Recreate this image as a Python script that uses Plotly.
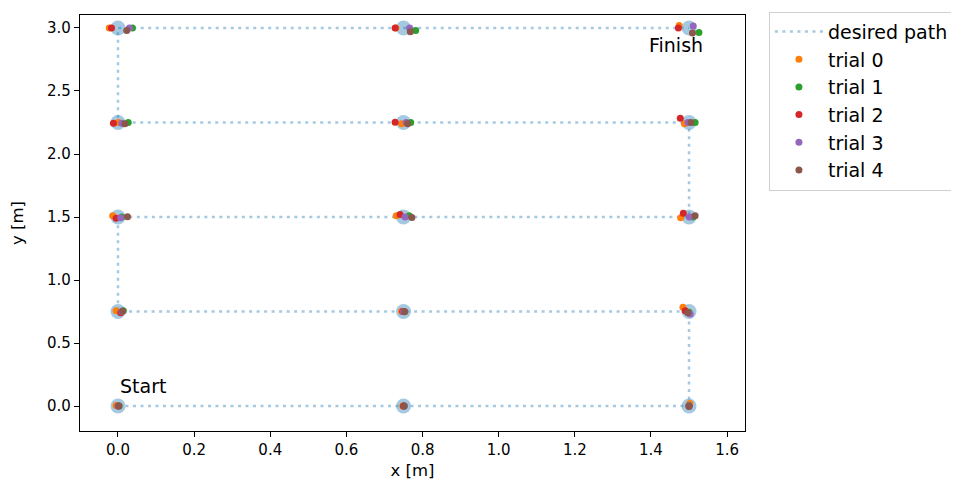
import plotly.graph_objects as go

# desired path (waypoints in travel order)
path_x = [0.0, 0.75, 1.5, 1.5, 0.75, 0.0, 0.0, 0.75, 1.5, 1.5, 0.75, 0.0, 0.0, 0.75, 1.5]
path_y = [0.0, 0.0, 0.0, 0.75, 0.75, 0.75, 1.5, 1.5, 1.5, 2.25, 2.25, 2.25, 3.0, 3.0, 3.0]

trial0_x = [-0.005, 0.748, 1.502, 1.484, 0.745, -0.005, -0.014, 0.731, 1.478, 1.488, 0.745, 0.001, -0.023, 0.730, 1.474]
trial0_y = [0.005, 0.0, 0.02, 0.783, 0.752, 0.756, 1.51, 1.51, 1.495, 2.24, 2.24, 2.25, 3.0, 3.0, 3.02]
trial1_x = [0.003, 0.752, 1.5, 1.5, 0.752, 0.014, 0.01, 0.765, 1.51, 1.516, 0.769, 0.027, 0.038, 0.782, 1.526]
trial1_y = [0.0, 0.0, 0.005, 0.745, 0.75, 0.756, 1.5, 1.51, 1.5, 2.25, 2.25, 2.25, 3.0, 2.98, 2.965]
trial2_x = [0.002, 0.75, 1.5, 1.49, 0.748, 0.007, -0.005, 0.741, 1.485, 1.477, 0.728, -0.012, -0.017, 0.728, 1.472]
trial2_y = [0.0, 0.0, 0.0, 0.757, 0.75, 0.74, 1.49, 1.52, 1.53, 2.283, 2.252, 2.245, 3.0, 3.0, 3.0]
trial3_x = [0.0, 0.752, 1.5, 1.503, 0.75, 0.01, 0.007, 0.754, 1.501, 1.497, 0.757, 0.01, 0.030, 0.766, 1.511]
trial3_y = [0.0, 0.0, 0.0, 0.73, 0.748, 0.75, 1.495, 1.5, 1.5, 2.25, 2.25, 2.245, 3.0, 3.0, 3.016]
trial4_x = [0.001, 0.751, 1.5, 1.497, 0.753, 0.012, 0.025, 0.772, 1.516, 1.505, 0.761, 0.018, 0.023, 0.768, 1.509]
trial4_y = [0.0, 0.0, -0.003, 0.74, 0.748, 0.752, 1.503, 1.497, 1.51, 2.25, 2.24, 2.24, 2.98, 2.97, 2.96]

trials = [
    ("trial 0", trial0_x, trial0_y, "#ff7f0e"),
    ("trial 1", trial1_x, trial1_y, "#2ca02c"),
    ("trial 2", trial2_x, trial2_y, "#d62728"),
    ("trial 3", trial3_x, trial3_y, "#9467bd"),
    ("trial 4", trial4_x, trial4_y, "#8c564b"),
]

x_ticks = [0.0, 0.2, 0.4, 0.6, 0.8, 1.0, 1.2, 1.4, 1.6]
y_ticks = [0.0, 0.5, 1.0, 1.5, 2.0, 2.5, 3.0]

FONT = "DejaVu Sans"
light_blue = "rgba(31,119,180,0.4)"

fig = go.Figure()
fig.add_trace(go.Scatter(
    x=path_x, y=path_y, mode="lines", name="desired path",
    line=dict(color=light_blue, width=2.5, dash="3px,4.5px"),
    legendgroup="path",
))
fig.add_trace(go.Scatter(
    x=path_x, y=path_y, mode="markers", showlegend=False,
    marker=dict(color=light_blue, size=15),
    hoverinfo="skip",
))
for i, (name, xs, ys, col) in enumerate(trials):
    fig.add_trace(go.Scatter(
        x=xs, y=ys, mode="markers", name=name,
        marker=dict(color=col, size=7),
        legendgroup="g%d" % i,
    ))

fig.add_annotation(x=0.0, y=0.16, text="Start", showarrow=False,
                   xanchor="left", yanchor="middle", font=dict(size=19, color="black", family=FONT))
fig.add_annotation(x=1.39, y=2.865, text="Finish", showarrow=False,
                   xanchor="left", yanchor="middle", font=dict(size=19, color="black", family=FONT))

axis_common = dict(
    showgrid=False, zeroline=False, showline=True, linecolor="black", linewidth=1.3,
    mirror=True, ticks="outside", ticklen=5, tickwidth=1.2, tickcolor="black",
    tickfont=dict(size=15, color="black", family=FONT),
    tickformat=".1f", automargin=False,
)

fig.update_layout(
    width=951, height=478,
    margin=dict(l=72, r=214, t=7, b=55, autoexpand=False),
    paper_bgcolor="white", plot_bgcolor="white",
    font=dict(family=FONT, color="black"),
    xaxis=dict(range=[-0.0998, 1.647], tickvals=x_ticks,
               title=dict(text="x [m]", font=dict(size=16.5, color="black", family=FONT), standoff=6),
               **axis_common),
    yaxis=dict(range=[-0.198, 3.103], tickvals=y_ticks,
               title=dict(text="y [m]", font=dict(size=16.5, color="black", family=FONT), standoff=20),
               **axis_common),
    legend=dict(x=1.036, y=1.008, xanchor="left", yanchor="top",
                font=dict(size=19, color="black", family=FONT),
                bordercolor="#d0d0d0", borderwidth=1, bgcolor="white",
                tracegroupgap=0, itemwidth=48),
    showlegend=True,
)

fig.write_html("out.html")
